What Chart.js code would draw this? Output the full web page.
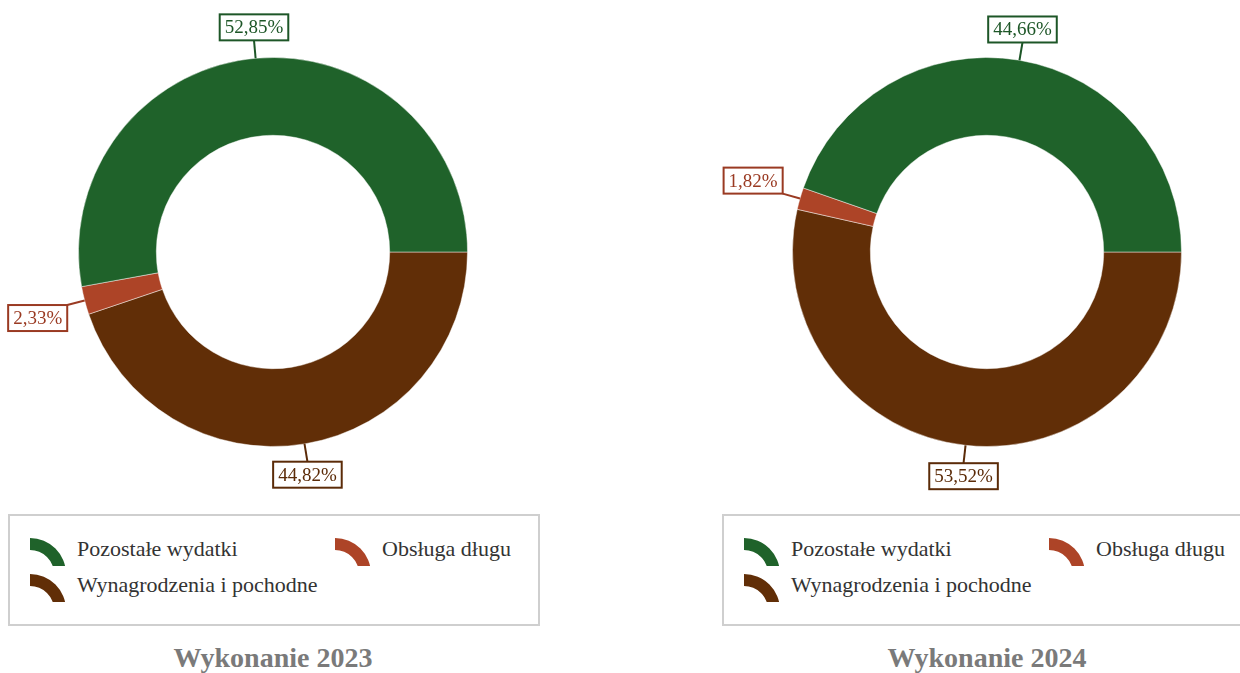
<!DOCTYPE html>
<html>
<head>
<meta charset="utf-8">
<script src="https://cdn.jsdelivr.net/npm/chart.js@4.4.1/dist/chart.umd.min.js"></script>
<style>
  body { margin: 0; width: 1240px; height: 673px; overflow: hidden; background: #fff; font-family: "Liberation Serif", "Times New Roman", serif; }
  .panel { position: absolute; top: 0; width: 546px; height: 673px; }
  .panel canvas { position: absolute; left: 0; top: 0; }
  .legend { position: absolute; left: 8px; top: 514px; width: 528px; height: 108px; border: 2px solid #cfcfcf; }
  .item { position: absolute; height: 36px; }
  .item svg { position: absolute; left: 0; top: 0; }
  .item span { position: absolute; left: 47px; top: 0px; font-size: 22px; line-height: 22px; color: #333; white-space: nowrap; }
  .title { position: absolute; left: 0; width: 546px; top: 644px; text-align: center; font-weight: bold; font-size: 28px; line-height: 28px; color: #7a7a7a; }
</style>
</head>
<body>
<div class="panel" id="p0" style="left:0px"><canvas id="c0" width="546" height="500"></canvas></div>
<div class="panel" id="p1" style="left:714px"><canvas id="c1" width="546" height="500"></canvas></div>
<script>
const categories = ["Pozostałe wydatki", "Obsługa długu", "Wynagrodzenia i pochodne"];
const values2023 = [52.85, 2.33, 44.82];
const values2024 = [44.66, 1.82, 53.52];
const titles = ["Wykonanie 2023", "Wykonanie 2024"];
const colors = ["#1f622a", "#ad4427", "#612e07"];
const labelColors = ["#1d5627", "#9a3a22", "#5b2b08"];

// legend slots: [left, top] inside the box
const legendSlots = [[20, 22], [325, 22], [20, 58]];

function arcIcon(color) {
  // quarter ring, clipped at the bottom like the reference
  return '<svg width="37" height="28" viewBox="0 0 37 28">' +
    '<path d="M0 0 A36 36 0 0 1 36 36 L24 36 A24 24 0 0 0 0 12 Z" fill="' + color + '"/></svg>';
}

function buildPanel(idx) {
  const panel = document.getElementById("p" + idx);
  const legend = document.createElement("div");
  legend.className = "legend";
  categories.forEach((name, i) => {
    const it = document.createElement("div");
    it.className = "item";
    it.style.left = legendSlots[i][0] + "px";
    it.style.top = legendSlots[i][1] + "px";
    it.innerHTML = arcIcon(colors[i]) + "<span>" + name + "</span>";
    legend.appendChild(it);
  });
  panel.appendChild(legend);
  const t = document.createElement("div");
  t.className = "title";
  t.textContent = titles[idx];
  panel.appendChild(t);
}

const boxLabels = {
  id: "boxLabels",
  afterDatasetsDraw(chart) {
    const ctx = chart.ctx;
    const meta = chart.getDatasetMeta(0);
    const ds = chart.data.datasets[0];
    ctx.save();
    ctx.font = "19px 'Liberation Serif'";
    meta.data.forEach((arc, i) => {
      const p = arc.getProps(["x", "y", "startAngle", "endAngle", "outerRadius"], true);
      const mid = (p.startAngle + p.endAngle) / 2;
      const cos = Math.cos(mid), sin = Math.sin(mid);
      const px = p.x + cos * p.outerRadius, py = p.y + sin * p.outerRadius;
      const ex = px + cos * 18, ey = py + sin * 18;
      const txt = ds.data[i].toFixed(2).replace(".", ",") + "%";
      const w = ctx.measureText(txt).width + 10, h = 26;
      let bx, by;
      if (Math.abs(cos) < 0.35) {
        bx = ex - w / 2;
      } else {
        bx = cos < 0 ? ex - w : ex;
      }
      by = sin < 0 ? ey - h : ey;
      const col = ds.labelColors[i];
      ctx.strokeStyle = col;
      ctx.lineWidth = 2;
      ctx.beginPath();
      ctx.moveTo(px, py);
      ctx.lineTo(ex, ey);
      ctx.stroke();
      ctx.fillStyle = "#fff";
      ctx.fillRect(bx, by, w, h);
      ctx.strokeRect(bx, by, w, h);
      ctx.fillStyle = col;
      ctx.textAlign = "center";
      ctx.textBaseline = "middle";
      ctx.fillText(txt, bx + w / 2, by + h / 2 + 1);
    });
    ctx.restore();
  }
};

function makeChart(idx, values) {
  // drawn clockwise from 3 o'clock, so reverse the order to get the reference layout
  const order = [2, 1, 0];
  new Chart(document.getElementById("c" + idx), {
    type: "doughnut",
    data: {
      labels: order.map((i) => categories[i]),
      datasets: [{
        data: order.map((i) => values[i]),
        backgroundColor: order.map((i) => colors[i]),
        labelColors: order.map((i) => labelColors[i]),
        borderColor: "rgba(255,255,255,0.45)",
        borderWidth: 1,
      }],
    },
    options: {
      responsive: false,
      animation: false,
      rotation: 90,
      cutout: "60%",
      layout: { padding: { left: 78, right: 78, top: 57, bottom: 53 } },
      plugins: {
        legend: { display: false },
        tooltip: { enabled: false },
      },
    },
    plugins: [boxLabels],
  });
  buildPanel(idx);
}

makeChart(0, values2023);
makeChart(1, values2024);
</script>
</body>
</html>
